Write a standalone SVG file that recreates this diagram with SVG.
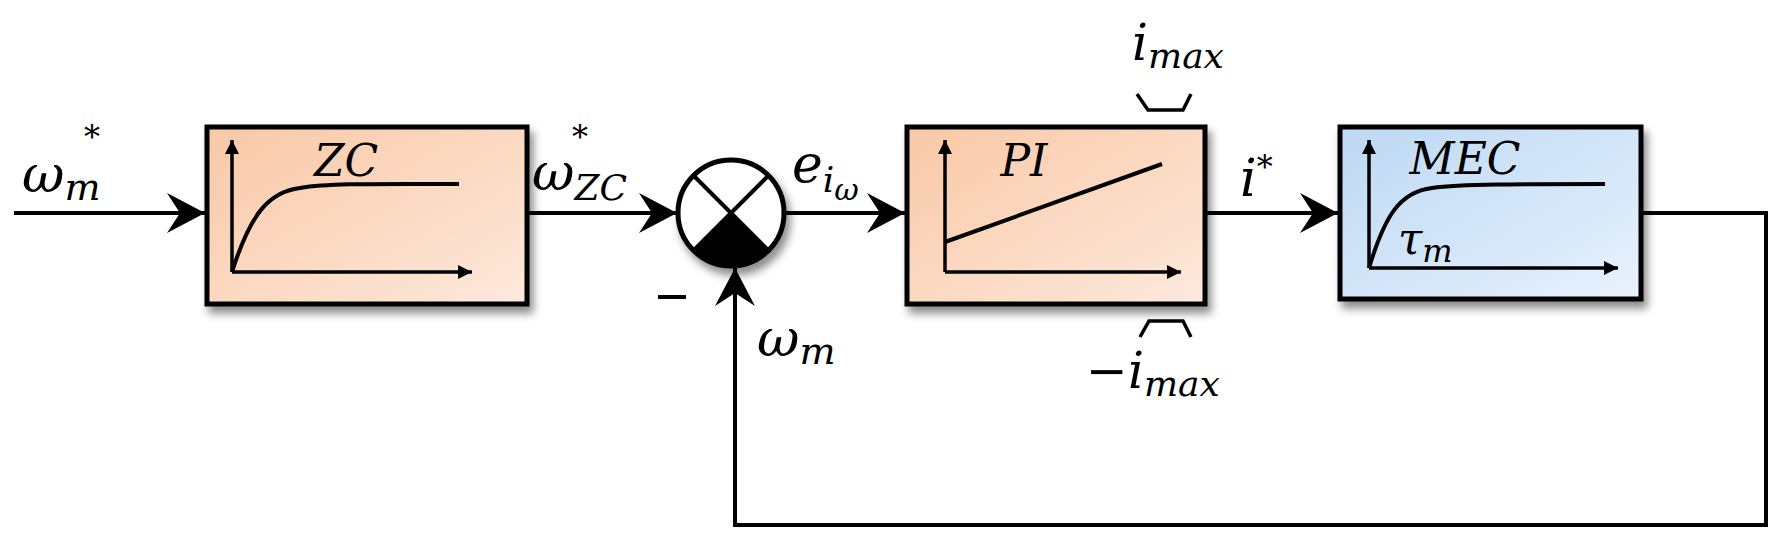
<svg xmlns="http://www.w3.org/2000/svg" width="1778" height="539" viewBox="0 0 1778 539">
<style>
.box{stroke:#000;stroke-width:5}
.ax{fill:none;stroke:#000;stroke-width:3.5}
.cv{fill:none;stroke:#000;stroke-width:4}
.ln{fill:none;stroke:#000;stroke-width:4}
.t{font-family:"DejaVu Serif","Liberation Serif",serif;font-style:italic;fill:#000}
</style>
<defs>
<linearGradient id="go" x1="0" y1="0" x2="1" y2="1"><stop offset="0" stop-color="#f9c8a6"/><stop offset="1" stop-color="#fde9dc"/></linearGradient>
<linearGradient id="gb" x1="0" y1="0" x2="1" y2="1"><stop offset="0" stop-color="#bcd8f4"/><stop offset="1" stop-color="#e8f2fc"/></linearGradient>
<filter id="sh" x="-10%" y="-10%" width="125%" height="130%"><feDropShadow dx="4" dy="7" stdDeviation="4" flood-color="#000" flood-opacity="0.45"/></filter>
<marker id="big" viewBox="-40 -22 42 44" markerWidth="42" markerHeight="44" refX="0" refY="0" orient="auto" markerUnits="userSpaceOnUse"><path d="M0,0 L-38,-20 L-25,0 L-38,20 Z" fill="#000"/></marker>
<marker id="sm" viewBox="-14 -8 15 16" markerWidth="15" markerHeight="16" refX="0" refY="0" orient="auto" markerUnits="userSpaceOnUse"><path d="M0,0 L-14,-7 L-14,7 Z" fill="#000"/></marker>
</defs>
<g id="connectors">
<path class="ln" d="M14,213 H205" marker-end="url(#big)"/>
<path class="ln" d="M527,213 H677" marker-end="url(#big)"/>
<path class="ln" d="M784,213 H905" marker-end="url(#big)"/>
<path class="ln" d="M1205,213 H1338" marker-end="url(#big)"/>
<path class="ln" d="M1641,213 H1766 V525 H735 V268" marker-end="url(#big)"/>
</g>
<g id="zc">
<rect class="box" x="207" y="127" width="320" height="177" fill="url(#go)" filter="url(#sh)"/>
<path class="ax" d="M232,272 V140" marker-end="url(#sm)"/>
<path class="ax" d="M232,272 H472" marker-end="url(#sm)"/>
<path class="cv" d="M232,272 C250,215 268,192 300,188 C330,183 380,184 459,184"/>
<text class="t" x="346" y="176" font-size="44" text-anchor="middle">ZC</text>
</g>
<g id="sum" filter="url(#sh)">
<circle cx="731" cy="213" r="53" fill="#fff" stroke="#000" stroke-width="5"/>
<path d="M731,213 L693.5,250.5 A53,53 0 0 0 768.5,250.5 Z" fill="#000"/>
<path d="M693.5,175.5 L768.5,250.5 M768.5,175.5 L693.5,250.5" stroke="#000" stroke-width="4"/>
</g>
<g id="pi">
<rect class="box" x="907" y="127" width="298" height="177" fill="url(#go)" filter="url(#sh)"/>
<path class="ax" d="M945,272 V140" marker-end="url(#sm)"/>
<path class="ax" d="M945,272 H1181" marker-end="url(#sm)"/>
<path class="cv" d="M945,242 L1162,164"/>
<text class="t" x="1024" y="176" font-size="44" text-anchor="middle">PI</text>
</g>
<g id="mec">
<rect class="box" x="1340" y="127" width="301" height="172" fill="url(#gb)" filter="url(#sh)"/>
<path class="ax" d="M1369,268 V140" marker-end="url(#sm)"/>
<path class="ax" d="M1369,268 H1618" marker-end="url(#sm)"/>
<path class="cv" d="M1369,268 C1385,215 1400,192 1432,188 C1460,184 1520,184 1605,184"/>
<text class="t" x="1465" y="174" font-size="44" text-anchor="middle">MEC</text>
<text class="t" x="1398" y="254" font-size="44">τ<tspan font-size="32" dy="8">m</tspan></text>
</g>
<g id="labels">
<text class="t" x="22" y="192" font-size="52">ω<tspan font-size="38" dy="8">m</tspan></text>
<text class="t" x="84" y="148" font-size="32">*</text>
<text class="t" x="532" y="190" font-size="52">ω<tspan font-size="36" dy="10">ZC</tspan></text>
<text class="t" x="572" y="148" font-size="32">*</text>
<text class="t" x="792" y="182" font-size="52">e<tspan font-size="36" dy="10">i</tspan><tspan font-size="30" dy="8">ω</tspan></text>
<text class="t" x="1240" y="196" font-size="52">i<tspan font-size="32" dy="-18">*</tspan></text>
<text class="t" x="1132" y="60" font-size="50">i<tspan font-size="36" dy="8">max</tspan></text>
<path class="ax" d="M1137,94 L1148,110 H1183 L1191,94"/>
<path class="ax" d="M1140,337 L1149,321 H1183 L1191,337"/>
<text class="t" x="1086" y="388" font-size="50">−i<tspan font-size="36" dy="8">max</tspan></text>
<text class="t" x="757" y="356" font-size="52">ω<tspan font-size="38" dy="8">m</tspan></text>
<path d="M658,297 H686" stroke="#000" stroke-width="4"/>
</g>
</svg>
